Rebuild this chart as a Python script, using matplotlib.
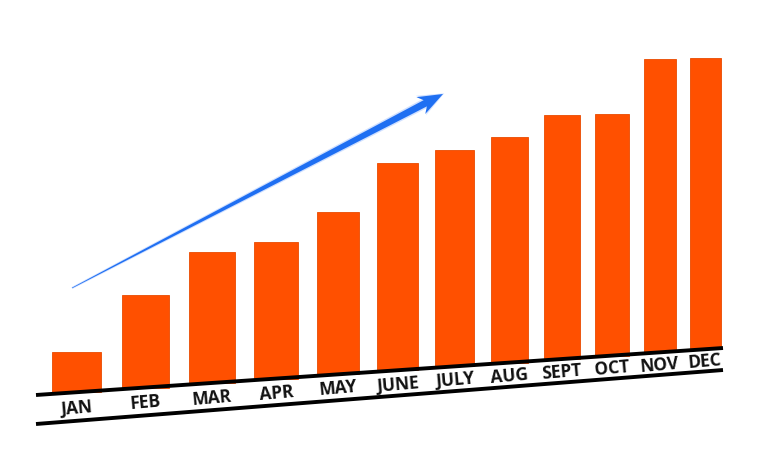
import numpy as np
import matplotlib.pyplot as plt
from matplotlib.patches import Polygon

months = ["JAN", "FEB", "MAR", "APR", "MAY", "JUNE", "JULY", "AUG", "SEPT", "OCT", "NOV", "DEC"]
sales = [40, 93, 131, 137, 162, 207, 216, 226, 244, 242, 293, 291]

fig = plt.figure(figsize=(7.58, 4.70), dpi=100)
ax = fig.add_axes([0, 0, 1, 1])
ax.set_xlim(0, 758)
ax.set_ylim(470, 0)
ax.axis('off')

# slight perspective: bars get narrower and closer together to the right
i = np.arange(len(months))
xc = 76.5 + 70.1 * i - 1.177 * i ** 2
w = 49 - 1.65 * i

def upper(x):
    return 395 - 0.0684 * (x - 36)

def lower(x):
    return 424 - 0.0786 * (x - 36)

ax.bar(xc, -np.array(sales), bottom=upper(xc), width=w,
       color='#ff5000', edgecolor='#e94a00', linewidth=0.6, zorder=2)

x0, x1 = 36, 723
ax.plot([x0, x1], [upper(x0), upper(x1)], color='black', lw=2.8, zorder=3,
        solid_capstyle='butt')
ax.plot([x0, x1], [lower(x0), lower(x1)], color='black', lw=2.8, zorder=3,
        solid_capstyle='butt')

for x, m in zip(xc, months):
    y = (upper(x) + lower(x)) / 2 + 1.5
    ax.text(x, y, m, ha='center', va='center', rotation=5,
            fontsize=12.5, family='Open Sans', fontweight='bold', color='#111111')

# trend arrow
tail = np.array([72.0, 288.0])
tip = np.array([443.0, 94.0])
u = (tip - tail) / np.linalg.norm(tip - tail)
n = np.array([-u[1], u[0]])
hb = tip - u * 20
barb = tip - u * 25
pts = [tail + n * 0.3, hb + n * 3.5, barb + n * 9.5, tip,
       barb - n * 9.5, hb - n * 3.5, tail - n * 0.3]
glow = [tail + n * 1.0, hb + n * 5.0, barb + n * 11, tip + u * 1.5,
        barb - n * 11, hb - n * 5.0, tail - n * 1.0]
ax.add_patch(Polygon(glow, closed=True, color='#7aa8ff', alpha=0.35, lw=0, zorder=3))
ax.add_patch(Polygon(pts, closed=True, color='#1f6ff2', lw=0, zorder=4))

fig.savefig('out.png', dpi=100)
